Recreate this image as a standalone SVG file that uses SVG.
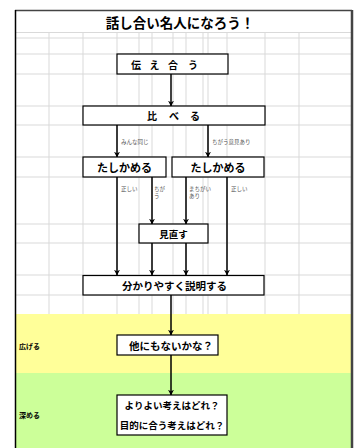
<svg xmlns="http://www.w3.org/2000/svg" width="358" height="448" viewBox="0 0 358 448">
<defs>
<style>
.grid{stroke:#d9d9d9;stroke-width:1;fill:none}
.box{fill:#fff;stroke:#000;stroke-width:1.2}
.t{font-family:"Noto Sans CJK JP","Noto Sans",sans-serif;font-weight:bold;fill:#000;text-anchor:middle;dominant-baseline:central}
.s{font-family:"Noto Sans CJK JP","Noto Sans",sans-serif;fill:#555;font-size:5.5px;dominant-baseline:central}
.side{font-family:"Noto Sans CJK JP","Noto Sans",sans-serif;font-weight:bold;fill:#000;font-size:7px;dominant-baseline:central}
.c{stroke:#000;stroke-width:1.5;fill:none;marker-end:url(#ah)}
</style>
<marker id="ah" viewBox="0 0 10 10" refX="9" refY="5" markerWidth="6" markerHeight="6" markerUnits="userSpaceOnUse" orient="auto">
<path d="M0,0 L10,5 L0,10 L3,5 Z" fill="#000"/>
</marker>
</defs>
<rect x="0" y="0" width="358" height="448" fill="#fff"/>
<rect x="15" y="314" width="337" height="59" fill="#ffff99"/>
<rect x="15" y="373" width="337" height="75" fill="#ccff99"/>
<g id="grid">
<path class="grid" d="M15,32.5H352M15,38H352M15,54H352M15,74H352M15,106H352M15,125H352M15,157H352M15,177H352M15,224H352M15,243H352M15,275H352M15,295H352"/>
<path class="grid" d="M49,32.5V314M83,32.5V314M117,32.5V314M139,32.5V314M152,32.5V314M173,32.5V314M186,32.5V314M203,32.5V314M208,32.5V314M227,32.5V314M265,32.5V314M299,32.5V314"/>
</g>
<g id="frame">
<path d="M15,10.5H352" stroke="#444" stroke-width="1.5"/>
<path d="M15.5,10V448" stroke="#000" stroke-width="1.5"/>
<path d="M352,10V448" stroke="#444" stroke-width="2.5"/>
</g>
<g id="title"><text class="t" x="180" y="22" font-size="13.5">話し合い名人になろう！</text></g>
<g id="connectors">
<path class="c" d="M171,74V106"/>
<path class="c" d="M117,125V157"/>
<path class="c" d="M208,125V157"/>
<path class="c" d="M117,177V275"/>
<path class="c" d="M152,177V224"/>
<path class="c" d="M186,177V224"/>
<path class="c" d="M227,177V275"/>
<path class="c" d="M152,243V275"/>
<path class="c" d="M186,243V275"/>
<path class="c" d="M171,295V335"/>
<path class="c" d="M171,355V395"/>
<text class="s" x="121" y="142">みんな同じ</text>
<text class="s" x="212" y="142">ちがう意見あり</text>
<text class="s" x="121" y="189">正しい</text>
<text class="s" x="154" y="189">ちが</text>
<text class="s" x="154" y="195.5">う</text>
<text class="s" x="189" y="189">まちがい</text>
<text class="s" x="189" y="195.5">あり</text>
<text class="s" x="231" y="189">正しい</text>
</g>
<g id="n1"><rect class="box" x="117" y="54" width="111" height="20"/><text class="t" x="136 154.5 173 193" y="64" font-size="10">伝え合う</text></g>
<g id="n2"><rect class="box" x="83" y="106" width="182" height="19"/><text class="t" x="152 174 195" y="115.5" font-size="10">比べる</text></g>
<g id="n3"><rect class="box" x="83" y="157" width="83" height="20"/><text class="t" x="124.5" y="167" font-size="11">たしかめる</text></g>
<g id="n4"><rect class="box" x="172" y="157" width="92" height="20"/><text class="t" x="218" y="167" font-size="11">たしかめる</text></g>
<g id="n5"><rect class="box" x="139" y="224" width="69" height="19"/><text class="t" x="173.5" y="233.5" font-size="9.5">見直す</text></g>
<g id="n6"><rect class="box" x="83" y="275.5" width="181" height="19.5"/><text class="t" x="174.5" y="285.3" font-size="10.5">分かりやすく説明する</text></g>
<g id="n7"><rect class="box" x="117" y="335" width="101" height="20"/><text class="t" x="171" y="345" font-size="10.5">他にもないかな？</text></g>
<g id="n8"><rect class="box" x="117" y="395" width="110" height="40"/><text class="t" x="172" y="405" font-size="9.5">よりよい考えはどれ？</text><text class="t" x="172" y="424.5" font-size="9.5">目的に合う考えはどれ？</text></g>
<g id="sides">
<text class="side" x="19" y="346">広げる</text>
<text class="side" x="19" y="415">深める</text>
</g>
</svg>
